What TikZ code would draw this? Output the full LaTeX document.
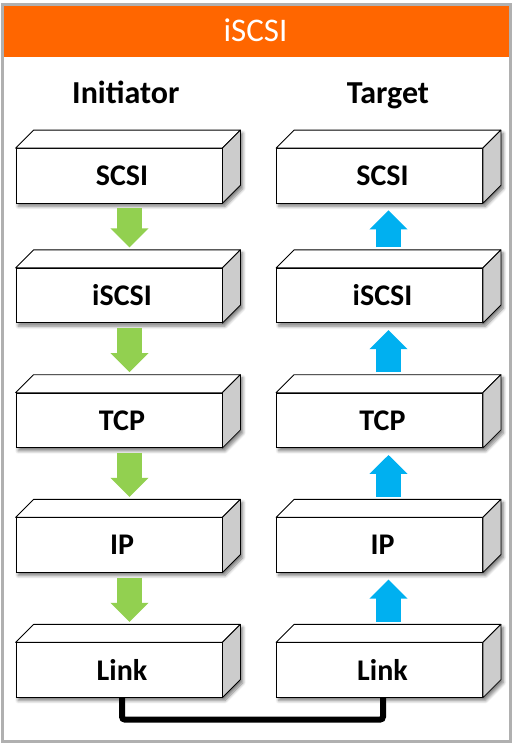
\documentclass[tikz,border=0pt]{standalone}
\usepackage{fontspec}
\setmainfont{Carlito}
\usetikzlibrary{calc,arrows.meta,shadows.blur}
\pgfdeclarelayer{bg}
\pgfsetlayers{bg,main}
\definecolor{hdr}{HTML}{FF6600}
\definecolor{grn}{HTML}{92D050}
\definecolor{blu}{HTML}{00B0F0}
\definecolor{sidegray}{HTML}{CCCCCC}
\definecolor{framegray}{HTML}{B0B0B0}
\tikzset{
  front/.style={draw=black, line width=0.8pt, fill=white, minimum width=206pt,
    minimum height=54.5pt, inner sep=0pt, font=\fontsize{30}{32}\selectfont\bfseries},
  topface/.style={draw=black, line width=0.8pt, fill=white, line join=round},
  sideface/.style={draw=black, line width=0.8pt, fill=sidegray, line join=round},
  boxshadow/.style={fill=white, blur shadow={shadow xshift=2.5pt, shadow yshift=-3pt,
    shadow blur radius=3pt, shadow blur steps=6, shadow opacity=50}},
  downarrow/.style={draw=grn, line width=25pt, -{Triangle[width=37pt,length=19pt]}},
  uparrow/.style={draw=blu, line width=25pt, -{Triangle[width=37pt,length=19pt]}},
  linkline/.style={draw=black, line width=6pt, rounded corners=3pt},
  coltitle/.style={anchor=base, font=\fontsize{32}{34}\selectfont\bfseries},
}
\newcommand\layerbox[4]{%
  \node[front] (#1) at (#2,#3) {\hspace*{6pt}#4};
  \begin{pgfonlayer}{bg}
    \path[boxshadow] (#1.south west) -- (#1.north west) -- ($(#1.north west)+(18,-18)$)
      -- ($(#1.north east)+(18,-18)$) -- ($(#1.south east)+(18,-18)$) -- (#1.south east) -- cycle;
  \end{pgfonlayer}
  \draw[topface] (#1.north west) -- ($(#1.north west)+(18,-18)$) -- ($(#1.north east)+(18,-18)$) -- (#1.north east) -- cycle;
  \draw[sideface] (#1.north east) -- ($(#1.north east)+(18,-18)$) -- ($(#1.south east)+(18,-18)$) -- (#1.south east) -- cycle;
}
\begin{document}
\begin{tikzpicture}[x=1pt,y=-1pt]
\useasboundingbox (0,0) rectangle (513,744);
% frame and header
\fill[hdr] (3,5) rectangle (510.5,57);
\draw[framegray, line width=2.5pt] (2.5,4.5) rectangle (510.5,741.5);
\node[anchor=base, text=white, font=\fontsize{33}{35}\selectfont] (title) at (255.5,41.7) {iSCSI};
\node[coltitle] (init) at (125.8,103.3) {Initiator};
\node[coltitle] (targ) at (388,103.3) {Target};
% layers
\layerbox{L1}{119}{175.75}{SCSI}
\layerbox{L2}{119}{295.5}{iSCSI}
\layerbox{L3}{119}{420.3}{TCP}
\layerbox{L4}{119}{545}{IP}
\layerbox{L5}{119}{670}{Link}
\layerbox{R1}{379.5}{175.75}{SCSI}
\layerbox{R2}{379.5}{295.5}{iSCSI}
\layerbox{R3}{379.5}{420.3}{TCP}
\layerbox{R4}{379.5}{545}{IP}
\layerbox{R5}{379.5}{670}{Link}
% arrows
\draw[downarrow] ($(L1.south)+(10.5,5)$) -- ($(L2.north)+(10.5,-20.5)$);
\draw[downarrow] ($(L2.south)+(10.5,5)$) -- ($(L3.north)+(10.5,-20.5)$);
\draw[downarrow] ($(L3.south)+(10.5,5)$) -- ($(L4.north)+(10.5,-20.5)$);
\draw[downarrow] ($(L4.south)+(10.5,5)$) -- ($(L5.north)+(10.5,-20.5)$);
\draw[uparrow] ($(R2.north)+(9,-20.5)$) -- ($(R1.south)+(9,7)$);
\draw[uparrow] ($(R3.north)+(9,-20.5)$) -- ($(R2.south)+(9,7)$);
\draw[uparrow] ($(R4.north)+(9,-20.5)$) -- ($(R3.south)+(9,7)$);
\draw[uparrow] ($(R5.north)+(9,-20.5)$) -- ($(R4.south)+(9,7)$);
% link
\draw[linkline] ($(L5.south)+(3,0)$) -- ++(0,22) -| ($(R5.south)+(3.5,0)$);
\end{tikzpicture}
\end{document}
